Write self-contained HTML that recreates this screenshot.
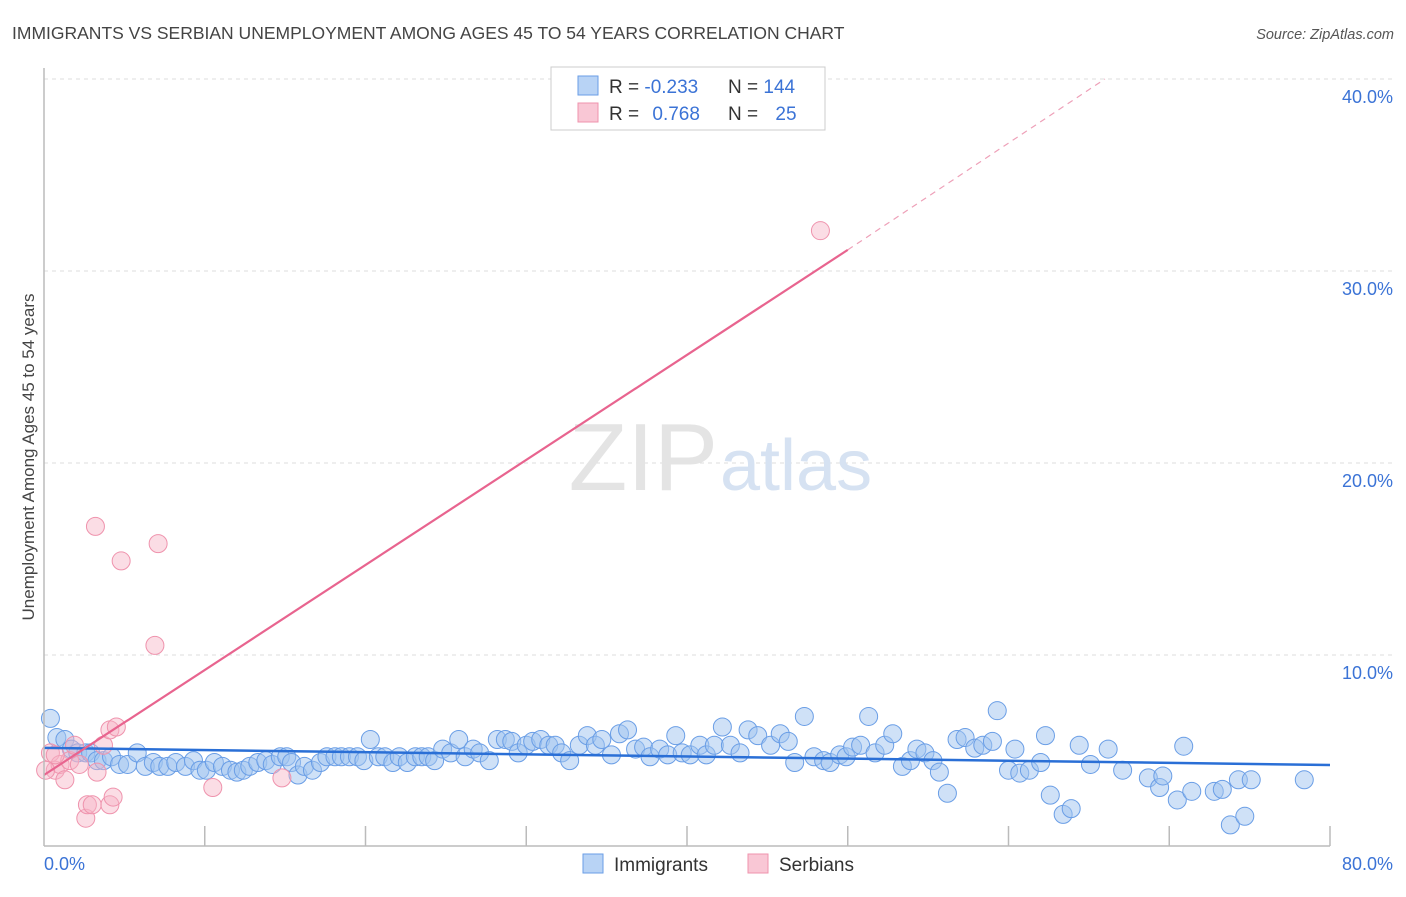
<!DOCTYPE html>
<html><head><meta charset="utf-8"><style>
body{margin:0;background:#fff;font-family:"Liberation Sans",sans-serif;}
svg text{font-family:"Liberation Sans",sans-serif;}
</style></head><body>
<svg id="chart" width="1406" height="892" xmlns="http://www.w3.org/2000/svg">
<text x="12" y="39" font-size="17.5" fill="#444">IMMIGRANTS VS SERBIAN UNEMPLOYMENT AMONG AGES 45 TO 54 YEARS CORRELATION CHART</text>
<text x="1394" y="39" font-size="14.5" fill="#555" text-anchor="end" font-style="italic">Source: ZipAtlas.com</text>
<g id="grid"></g>
<text x="718" y="490" font-size="96" fill="#e4e4e4" text-anchor="end" font-family="Liberation Serif">ZIP</text>
<text x="720" y="490" font-size="72" fill="#d6e2f2">atlas</text>
<g id="pts"></g>
<g id="lines"></g>
<line x1="44" y1="68" x2="44" y2="846" stroke="#bbb" stroke-width="1.5"/>
<line x1="44" y1="846" x2="1330" y2="846" stroke="#bbb" stroke-width="1.5"/>
<text transform="translate(34,457) rotate(-90)" font-size="17" fill="#444" text-anchor="middle">Unemployment Among Ages 45 to 54 years</text>
<text x="44" y="870" font-size="18" fill="#3b73d6">0.0%</text>
<text x="1393" y="870" font-size="18" fill="#3b73d6" text-anchor="end">80.0%</text>
<g>
<rect x="551" y="67" width="274" height="63" fill="#fff" stroke="#ccc"/>
<rect x="578" y="76" width="20" height="19" fill="#b8d3f5" stroke="#6a9ee6"/>
<rect x="578" y="103" width="20" height="19" fill="#f9c7d5" stroke="#ef93ad"/>
<text x="609" y="93" font-size="19" fill="#333">R = <tspan fill="#3b73d6">-0.233</tspan></text>
<text x="728" y="93" font-size="19" fill="#333">N = <tspan fill="#3b73d6">144</tspan></text>
<text x="609" y="120" font-size="19" fill="#333">R = <tspan fill="#3b73d6" dx="8">0.768</tspan></text>
<text x="728" y="120" font-size="19" fill="#333">N = <tspan fill="#3b73d6" dx="12">25</tspan></text>
</g>
<g>
<rect x="583" y="854" width="20" height="19" fill="#b8d3f5" stroke="#6a9ee6"/>
<text x="614" y="871" font-size="19" fill="#333">Immigrants</text>
<rect x="748" y="854" width="20" height="19" fill="#f9c7d5" stroke="#ef93ad"/>
<text x="779" y="871" font-size="19" fill="#333">Serbians</text>
</g>
</svg>
<script>
const yTicks=[10,20,30,40];
const yTickLabels=["10.0%","20.0%","30.0%","40.0%"];
const xTicks=[0,10,20,30,40,50,60,70,80];
const immX=[0.4,0.8,1.3,1.7,2.1,2.6,2.9,3.3,3.7,4.2,4.7,5.2,5.8,6.3,6.8,7.2,7.7,8.2,8.8,9.3,9.7,10.1,10.6,11.1,11.6,12.0,12.4,12.8,13.3,13.8,14.2,14.7,15.1,15.4,15.8,16.2,16.7,17.2,17.6,18.1,18.5,19.0,19.5,19.9,20.3,20.8,21.2,21.7,22.1,22.6,23.1,23.5,23.9,24.3,24.8,25.3,25.8,26.2,26.7,27.1,27.7,28.2,28.7,29.1,29.5,30.0,30.4,30.9,31.4,31.8,32.2,32.7,33.3,33.8,34.3,34.7,35.3,35.8,36.3,36.8,37.3,37.7,38.3,38.8,39.3,39.7,40.2,40.8,41.2,41.7,42.2,42.7,43.3,43.8,44.4,45.2,45.8,46.3,46.7,47.3,47.9,48.5,48.9,49.5,49.9,50.3,50.8,51.3,51.7,52.3,52.8,53.4,53.9,54.3,54.8,55.3,55.7,56.2,56.8,57.3,57.9,58.4,59.0,59.3,60.0,60.4,60.7,61.3,62.0,62.3,62.6,63.4,63.9,64.4,65.1,66.2,67.1,68.7,69.4,69.6,70.5,70.9,71.4,72.8,73.3,73.8,74.3,74.7,75.1,78.4];
const immY=[6.7,5.7,5.6,5.1,4.9,4.9,4.9,4.5,4.5,4.7,4.3,4.3,4.9,4.2,4.4,4.2,4.2,4.4,4.2,4.5,4.0,4.0,4.4,4.2,4.0,3.9,4.0,4.2,4.4,4.5,4.3,4.7,4.7,4.4,3.75,4.2,4.0,4.4,4.7,4.7,4.7,4.7,4.7,4.5,5.6,4.7,4.7,4.4,4.7,4.4,4.7,4.7,4.7,4.5,5.1,4.9,5.6,4.7,5.1,4.9,4.5,5.6,5.6,5.5,4.9,5.3,5.5,5.6,5.3,5.3,4.9,4.5,5.3,5.8,5.3,5.6,4.8,5.9,6.1,5.1,5.2,4.7,5.1,4.8,5.8,4.9,4.8,5.3,4.8,5.3,6.25,5.3,4.9,6.1,5.8,5.3,5.9,5.5,4.4,6.8,4.7,4.5,4.4,4.8,4.7,5.2,5.3,6.8,4.9,5.3,5.9,4.2,4.5,5.1,4.9,4.5,3.9,2.8,5.6,5.7,5.15,5.3,5.5,7.1,4.0,5.1,3.85,4.0,4.4,5.8,2.7,1.7,2.0,5.3,4.3,5.1,4.0,3.6,3.1,3.7,2.45,5.25,2.9,2.9,3.0,1.15,3.5,1.6,3.5,3.5];
const serX=[0.4,0.7,1.0,1.3,1.6,1.9,2.2,2.6,2.7,3.0,3.2,3.3,3.7,4.1,4.1,4.3,4.5,4.8,6.9,7.1,10.5,14.8,48.3,0.1,0.7];
const serY=[4.9,4.0,4.3,3.5,4.5,5.3,4.3,1.5,2.2,2.2,16.7,3.9,5.3,6.1,2.2,2.6,6.25,14.9,10.5,15.8,3.1,3.6,32.1,4.0,4.8];
const immLine=[[0,5.16],[80,4.27]];
const serLine=[[0,3.75],[50,31.1]];
const serDash=[[50,31.1],[66,40]];
const NS="http://www.w3.org/2000/svg";
const X=v=>44+v*(1286/80), Y=v=>847-v*19.2;
const grid=document.getElementById('grid');
yTicks.forEach((t,i)=>{
 const l=document.createElementNS(NS,'line');
 
 
 l.setAttribute('x1',44);l.setAttribute('x2',1392);l.setAttribute('y1',Y(t));l.setAttribute('y2',Y(t));
 l.setAttribute('stroke','#ddd');l.setAttribute('stroke-dasharray','4,4');
 grid.appendChild(l);
 const tx=document.createElementNS(NS,'text');
 
 
 tx.setAttribute('x',1393);tx.setAttribute('y',Y(t)+24);tx.setAttribute('text-anchor','end');
 tx.setAttribute('font-size','18');tx.setAttribute('fill','#3b73d6');tx.textContent=yTickLabels[i];
 grid.appendChild(tx);
});
xTicks.forEach(t=>{
 if(t===0)return;
 const l=document.createElementNS(NS,'line');
 
 
 l.setAttribute('x1',X(t));l.setAttribute('x2',X(t));l.setAttribute('y1',826);l.setAttribute('y2',846);
 l.setAttribute('stroke','#bbb');l.setAttribute('stroke-width','1.5');
 grid.appendChild(l);
});
const pts=document.getElementById('pts');
immX.forEach((x,i)=>{
 const c=document.createElementNS(NS,'circle');
 
 
 c.setAttribute('cx',X(x));c.setAttribute('cy',Y(immY[i]));c.setAttribute('r',9);
 c.setAttribute('fill','rgba(160,196,240,0.5)');c.setAttribute('stroke','#6a9ee6');c.setAttribute('stroke-width','1');
 pts.appendChild(c);
});
serX.forEach((x,i)=>{
 const c=document.createElementNS(NS,'circle');
 
 
 c.setAttribute('cx',X(x));c.setAttribute('cy',Y(serY[i]));c.setAttribute('r',9);
 c.setAttribute('fill','rgba(246,180,198,0.45)');c.setAttribute('stroke','#ef93ad');c.setAttribute('stroke-width','1');
 pts.appendChild(c);
});
const lines=document.getElementById('lines');
function ln(p,col,w,dash,name){
 const l=document.createElementNS(NS,'line');
 
 
 l.setAttribute('x1',X(p[0][0]));l.setAttribute('y1',Y(p[0][1]));l.setAttribute('x2',X(p[1][0]));l.setAttribute('y2',Y(p[1][1]));
 l.setAttribute('stroke',col);l.setAttribute('stroke-width',w);if(dash)l.setAttribute('stroke-dasharray',dash);
 lines.appendChild(l);
}
ln(immLine,'#2a6fd6',2.5,null,'immigrants-trendline');
ln(serLine,'#e8648f',2.2,null,'serbians-trendline');
ln(serDash,'#eea0b8',1.2,'6,5','serbians-trendline-extension');
</script>
</body></html>
